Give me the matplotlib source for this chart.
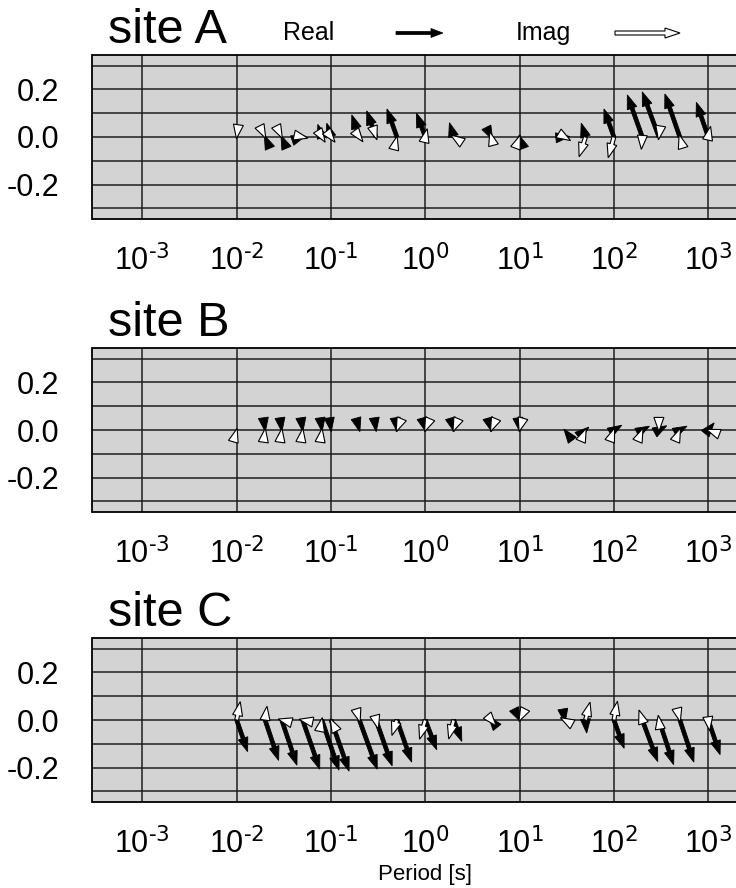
import numpy as np
import matplotlib.pyplot as plt
from matplotlib.patches import Polygon
from matplotlib.transforms import IdentityTransform

plt.rcParams['font.family'] = ['Liberation Sans', 'DejaVu Sans']
plt.rcParams['mathtext.default'] = 'regular'

# periods [s] shared by all sites
periods = [0.01, 0.02, 0.03, 0.05, 0.08, 0.1, 0.2, 0.3, 0.5, 1, 2, 5, 10,
           30, 50, 100, 200, 300, 500, 1000]

# induction vectors (x, y components)
a_re_x = [0.0, -0.003, -0.003, 0.012, -0.017, -0.018, -0.032, -0.039, -0.042, -0.037,
          -0.018, 0.006, -0.003, 0.022, -0.018, -0.042, -0.063, -0.07, -0.063, -0.05]
a_re_y = [0.0, 0.007, 0.007, 0.004, 0.053, 0.058, 0.093, 0.11, 0.118, 0.10,
          0.06, -0.012, 0.008, 0.002, 0.058, 0.118, 0.177, 0.19, 0.181, 0.146]
a_im_x = [-0.001, 0.003, 0.003, 0.022, 0.014, 0.017, 0.015, 0.004, 0.001, 0.008,
          -0.012, -0.006, 0.003, 0.025, -0.027, -0.024, -0.004, -0.002, -0.003, 0.01]
a_im_y = [-0.007, -0.006, -0.006, -0.005, -0.022, -0.022, -0.02, -0.012, 0.004, 0.035,
          0.008, 0.022, 0.008, -0.015, -0.083, -0.087, -0.052, -0.012, 0.01, 0.045]

b_re_x = [0.0, 0.001, 0.001, 0.001, 0.001, 0.001, 0.002, 0.001, 0.001, 0.002,
          0.002, 0.002, 0.001, -0.003, 0.014, 0.033, 0.03, 0.033, 0.03, 0.025]
b_re_y = [0.0, -0.007, -0.007, -0.007, -0.007, -0.007, -0.007, -0.007, -0.007, -0.007,
          -0.007, -0.007, -0.007, 0.004, 0.012, 0.02, 0.016, 0.018, 0.016, 0.03]
b_im_x = [0.002, 0.001, 0.001, 0.001, 0.001, 0.0, 0.0, 0.0, -0.003, -0.003,
          -0.003, -0.003, -0.002, 0.0, 0.003, 0.003, 0.003, 0.0, 0.003, -0.008]
b_im_y = [0.007, 0.007, 0.007, 0.007, 0.007, 0.0, 0.0, 0.0, -0.007, -0.007,
          -0.007, -0.007, -0.007, 0.0, 0.007, 0.008, 0.007, -0.006, 0.007, 0.003]

c_re_x = [0.046, 0.057, 0.064, 0.072, 0.072, 0.076, 0.075, 0.068, 0.062, 0.048,
          0.034, -0.012, 0.003, 0.002, 0.005, 0.043, 0.065, 0.062, 0.059, 0.05]
c_re_y = [-0.133, -0.17, -0.19, -0.207, -0.211, -0.215, -0.207, -0.193, -0.177, -0.125,
          -0.09, 0.015, -0.006, -0.012, -0.055, -0.119, -0.175, -0.188, -0.177, -0.146]
c_im_x = [0.015, 0.008, -0.015, -0.015, 0.002, -0.003, 0.003, 0.01, -0.021, -0.024,
          -0.021, 0.021, -0.003, -0.018, 0.019, 0.015, -0.014, -0.003, 0.002, 0.006]
c_im_y = [0.077, 0.058, 0.004, 0.003, 0.01, 0.006, -0.01, -0.038, -0.065, -0.081,
          -0.08, -0.025, -0.006, 0.01, 0.075, 0.079, 0.042, 0.02, -0.008, -0.045]

sites = ['site A', 'site B', 'site C']
site_re = [(a_re_x, a_re_y), (b_re_x, b_re_y), (c_re_x, c_re_y)]
site_im = [(a_im_x, a_im_y), (b_im_x, b_im_y), (c_im_x, c_im_y)]

W, H = 736, 888
fig = plt.figure(figsize=(W / 100, H / 100), dpi=100)

HEAD_LEN = 14.0
HEAD_W = 10.0
SHAFT_W = 3.8


def arrow_poly(x0, y0, dx, dy, head_len=HEAD_LEN, head_w=HEAD_W, shaft_w=SHAFT_W):
    # GMT style vector: full size head at the tip, shaft only if there is room
    L = np.hypot(dx, dy)
    u = np.array([dx, dy]) / L
    n = np.array([-u[1], u[0]])
    o = np.array([x0, y0])
    tip = o + np.array([dx, dy])
    base = tip - head_len * u
    if L > head_len:
        pts = [o + n * shaft_w / 2, base + n * shaft_w / 2, base + n * head_w / 2, tip,
               base - n * head_w / 2, base - n * shaft_w / 2, o - n * shaft_w / 2]
    else:
        pts = [base + n * head_w / 2, tip, base - n * head_w / 2]
    return np.array(pts)


def draw_vectors(ax, per, vx, vy, fc, lw):
    for p, u, v in zip(per, vx, vy):
        if u == 0 and v == 0:
            continue
        ox, oy = ax.transData.transform((p, 0.0))
        s = ax.transData.transform((p, 1.0))[1] - oy
        pts = arrow_poly(ox, oy, u * s, v * s)
        poly = Polygon(pts, closed=True, transform=IdentityTransform(),
                       facecolor=fc, edgecolor='black', lw=lw, zorder=4)
        ax.add_artist(poly)


tops = [55, 348, 638]
ax_h = 164
left_px, right_px = 92.5, 740

for i, top in enumerate(tops):
    ax = fig.add_axes([left_px / W, 1 - (top + ax_h) / H,
                       (right_px - left_px) / W, ax_h / H])
    ax.set_facecolor('#d3d3d3')
    ax.set_xscale('log')
    ax.set_xlim(10 ** -3.529, 10 ** 3.337)
    ax.set_ylim(-0.345, 0.345)

    ax.set_xticks([10.0 ** k for k in range(-3, 4)])
    ax.set_xticklabels([r'$10^{\text{%d}}$' % k for k in range(-3, 4)])
    ax.xaxis.set_minor_locator(plt.NullLocator())
    ax.set_yticks([-0.2, 0.0, 0.2])
    ax.set_yticklabels(['-0.2', '0.0', '0.2'])
    ax.set_yticks([-0.3, -0.1, 0.1, 0.3], minor=True)
    ax.tick_params(which='both', length=0)
    ax.tick_params(axis='x', labelsize=22, pad=19)
    ax.tick_params(axis='y', labelsize=22, pad=24)
    ax.grid(True, which='both', color='#1e1e1e', lw=1.1, zorder=1)
    ax.set_axisbelow(True)
    for sp in ax.spines.values():
        sp.set_linewidth(1.3)

    draw_vectors(ax, periods, site_re[i][0], site_re[i][1], 'black', 0.6)
    draw_vectors(ax, periods, site_im[i][0], site_im[i][1], 'white', 0.8)

    fig.text(108 / W, 1 - (top - 12) / H, sites[i], fontsize=35, va='baseline', ha='left')

# legend row on top
fig.text(309 / W, 1 - 33 / H, 'Real', fontsize=18, ha='center', va='center')
fig.text(543 / W, 1 - 33 / H, 'Imag', fontsize=18, ha='center', va='center')
leg_y = H - 33
fig.add_artist(Polygon(arrow_poly(396, leg_y, 47, 0, head_len=12, head_w=9, shaft_w=3.2),
                       closed=True, transform=IdentityTransform(),
                       facecolor='black', edgecolor='black', lw=0.5))
fig.add_artist(Polygon(arrow_poly(615, leg_y, 65, 0, head_len=15, head_w=10, shaft_w=4),
                       closed=True, transform=IdentityTransform(),
                       facecolor='white', edgecolor='black', lw=0.8))

fig.text(425 / W, 1 - 874 / H, 'Period [s]', fontsize=16, ha='center', va='center')

fig.savefig('out.png', dpi=100)
